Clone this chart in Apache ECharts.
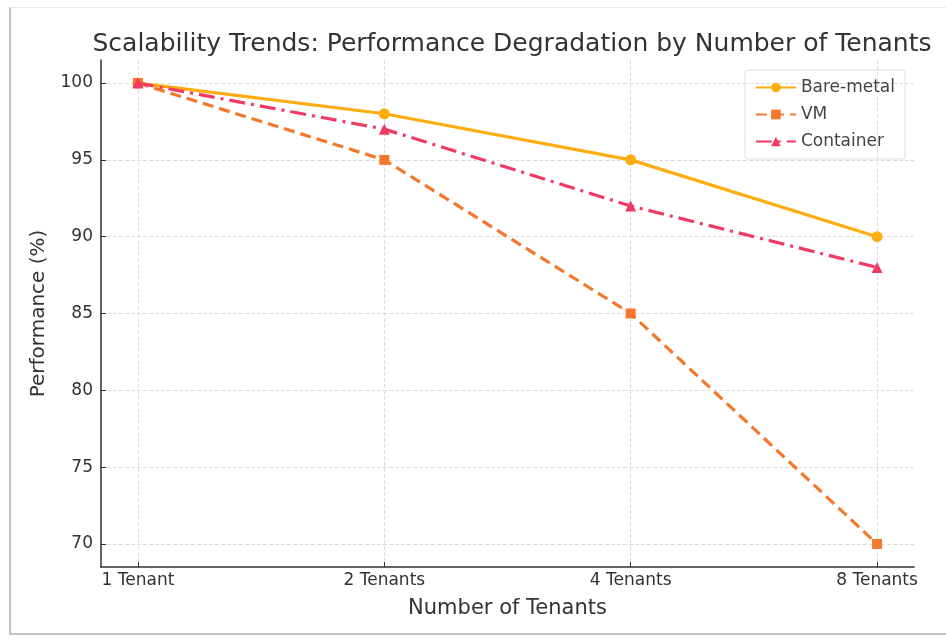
<!DOCTYPE html>
<html>
<head>
<meta charset="utf-8">
<script src="https://cdn.jsdelivr.net/npm/echarts@6/dist/echarts.min.js"></script>
<style>
  html, body { margin: 0; padding: 0; background: #fff; }
  #frame {
    position: absolute; left: 9px; top: 7px; width: 940px; height: 625px;
    border-left: 2px solid #c4c4c4; border-bottom: 2px solid #c4c4c4; border-top: 1px solid #ececec;
  }
  #chart { position: absolute; left: 0; top: 0; width: 946px; height: 641px; }
</style>
</head>
<body>
<div id="frame"></div>
<div id="chart"></div>
<script>
const tenants = ["1 Tenant", "2 Tenants", "4 Tenants", "8 Tenants"];
const bareMetal = [100, 98, 95, 90];
const vm = [100, 95, 85, 70];
const container = [100, 97, 92, 88];
const yTicks = [70, 75, 80, 85, 90, 95, 100];

const font = "DejaVu Sans";
const pairs = arr => arr.map((v, i) => [i, v]);

const chart = echarts.init(document.getElementById("chart"));
const option = {
  animation: false,
  textStyle: { fontFamily: font },
  title: {
    text: "Scalability Trends: Performance Degradation by Number of Tenants",
    left: 507,
    textAlign: "center",
    top: 27,
    textStyle: { fontFamily: font, fontWeight: "normal", fontSize: 25, color: "#333" }
  },
  legend: {
    right: 41,
    top: 70,
    orient: "vertical",
    itemWidth: 40,
    itemHeight: 12,
    itemGap: 10,
    padding: [9, 10, 9, 10],
    borderColor: "#ddd",
    borderWidth: 1,
    borderRadius: 3,
    textStyle: { fontFamily: font, fontSize: 17, color: "#444" },
    data: ["Bare-metal", "VM", "Container"]
  },
  grid: { left: 101, right: 32, top: 60, bottom: 74 },
  xAxis: {
    type: "value",
    min: -0.15,
    max: 3.15,
    name: "Number of Tenants",
    nameLocation: "middle",
    nameGap: 31,
    nameTextStyle: { fontFamily: font, fontSize: 21, color: "#333" },
    axisLine: { show: true, onZero: false, lineStyle: { color: "#333", width: 1.5 } },
    axisTick: { show: true, inside: true, length: 5, customValues: [0, 1, 2, 3], lineStyle: { color: "#333" } },
    axisLabel: {
      customValues: [0, 1, 2, 3],
      formatter: v => tenants[Math.round(v)],
      fontFamily: font, fontSize: 17, color: "#333", margin: 5
    },
    splitLine: { show: true, lineStyle: { type: "dashed", color: "#ddd" } }
  },
  yAxis: {
    type: "value",
    min: 68.5,
    max: 101.5,
    name: "Performance (%)",
    nameLocation: "middle",
    nameGap: 52,
    nameTextStyle: { fontFamily: font, fontSize: 20, color: "#333" },
    axisLine: { show: true, onZero: false, lineStyle: { color: "#333", width: 1.5 } },
    axisTick: { show: true, inside: true, length: 5, customValues: yTicks, lineStyle: { color: "#333" } },
    axisLabel: { customValues: yTicks, fontFamily: font, fontSize: 17, color: "#333", margin: 8 },
    splitLine: { show: true, lineStyle: { type: "dashed", color: "#ddd" } }
  },
  series: [
    {
      name: "Bare-metal",
      type: "line",
      data: pairs(bareMetal),
      symbol: "circle",
      symbolSize: 11,
      color: "#FDAD0F",
      lineStyle: { width: 3.2, type: "solid" },
      z: 3
    },
    {
      name: "VM",
      type: "line",
      data: pairs(vm),
      symbol: "rect",
      symbolSize: 10,
      color: "#F5772B",
      lineStyle: { width: 3.2, type: [11, 6] },
      z: 4
    },
    {
      name: "Container",
      type: "line",
      data: pairs(container),
      symbol: "triangle",
      symbolSize: 11,
      color: "#EF3A63",
      lineStyle: { width: 3.2, type: [16, 6, 3, 6] },
      z: 5
    }
  ]
};
chart.setOption(option);
</script>
</body>
</html>
